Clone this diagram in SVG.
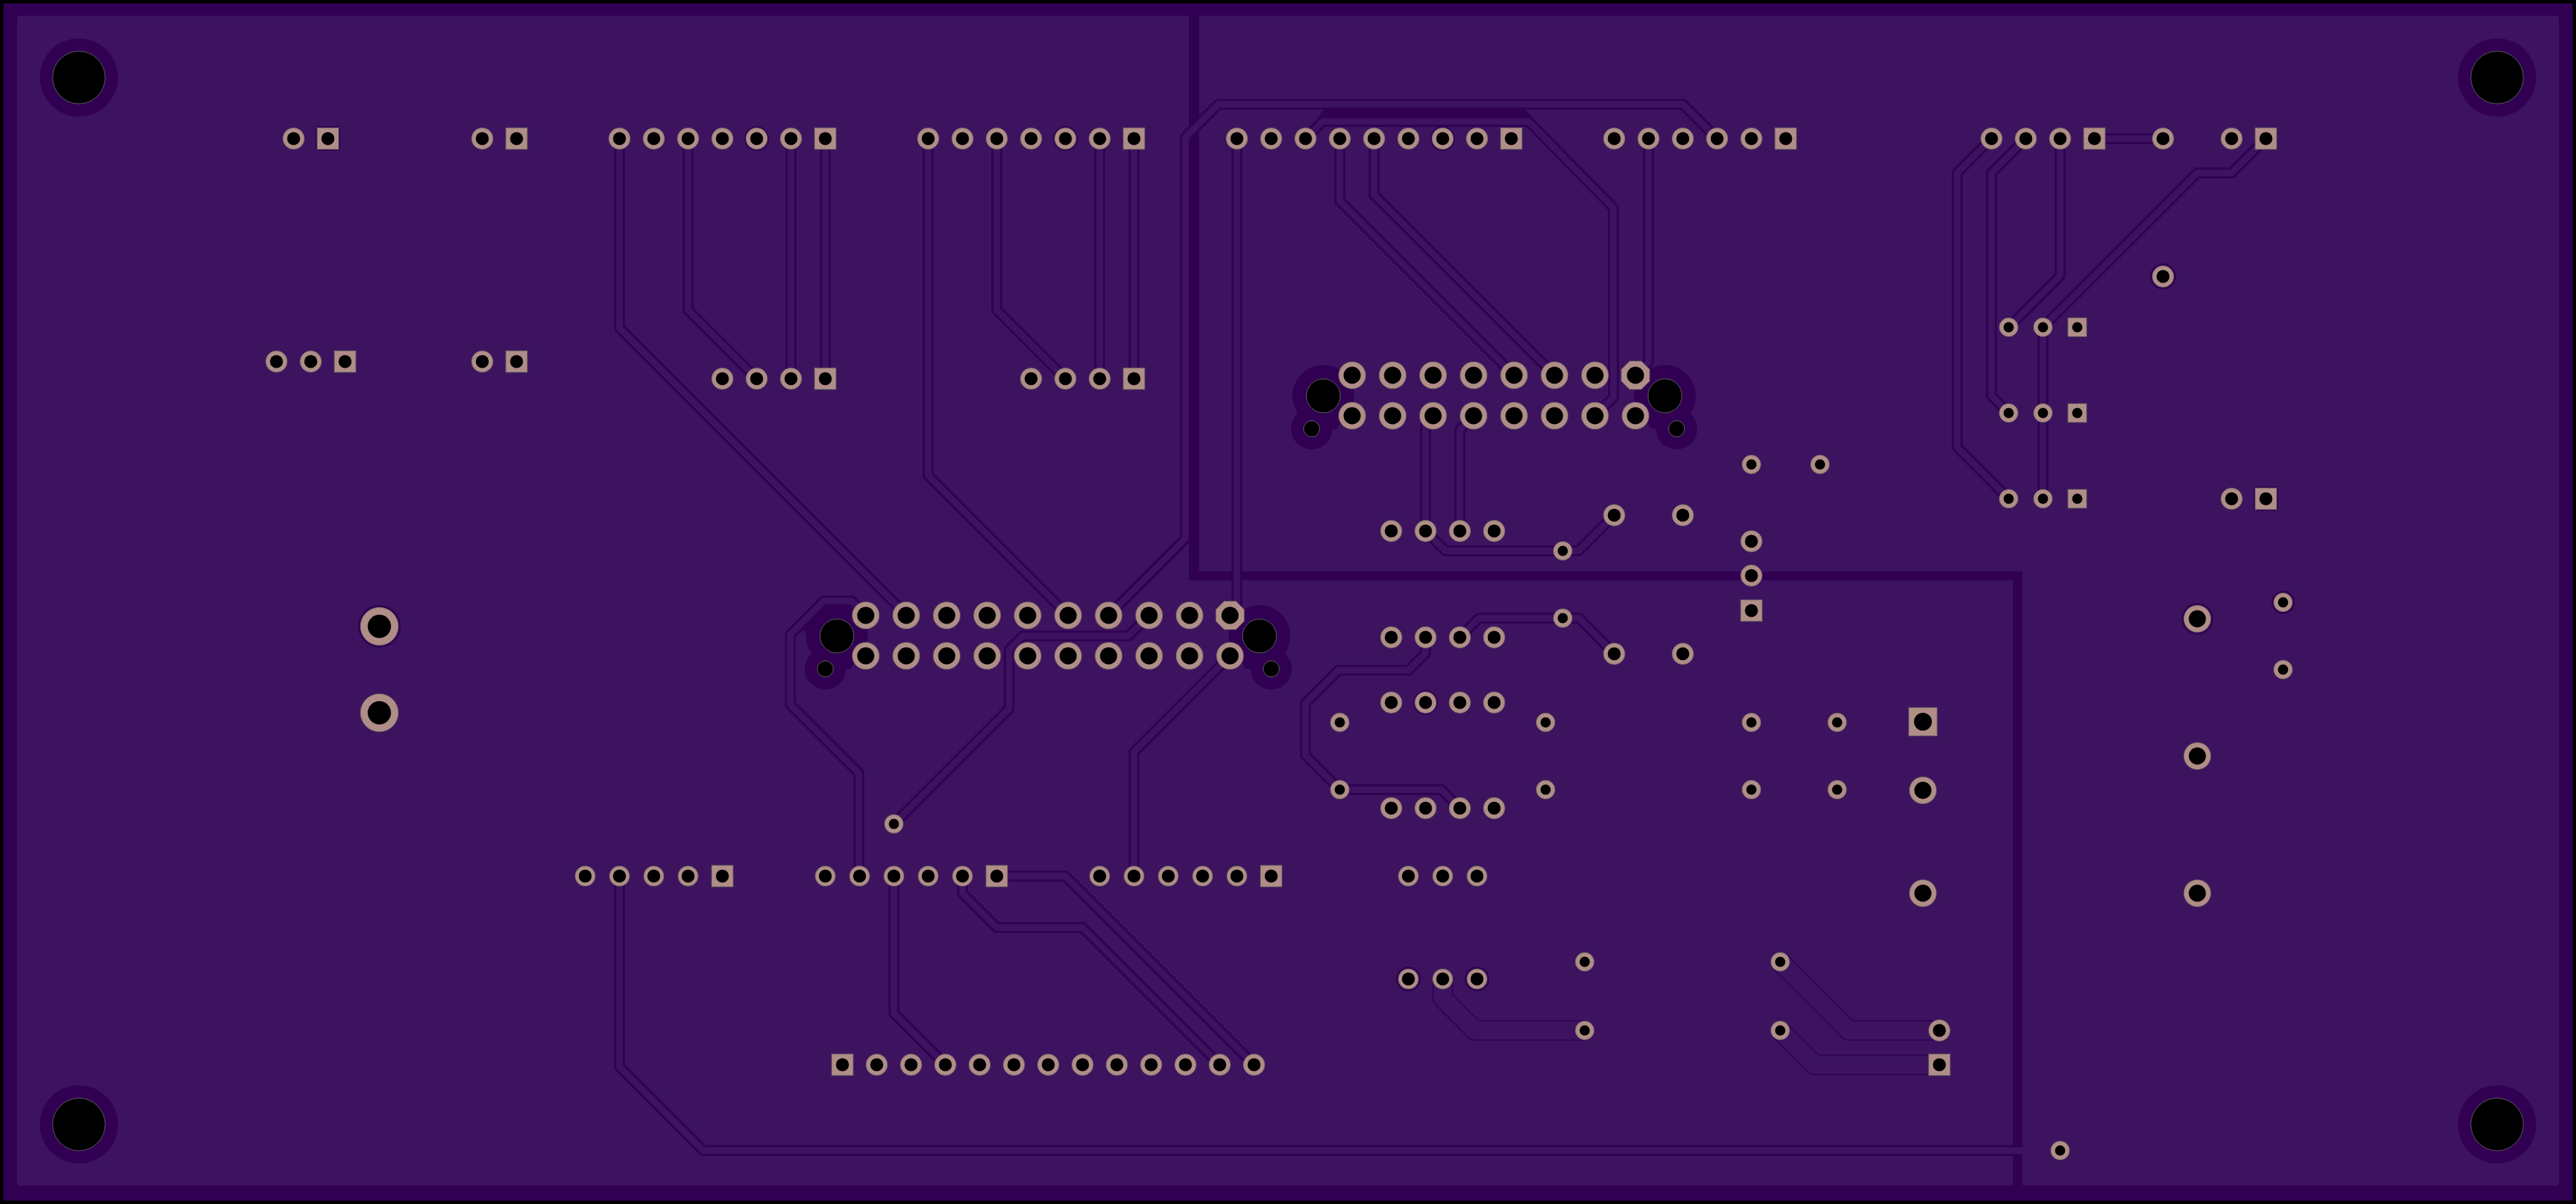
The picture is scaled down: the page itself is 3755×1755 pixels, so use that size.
<svg xmlns="http://www.w3.org/2000/svg" width="3755" height="1755" viewBox="0 0 3755 1755">
<style>
.pad{fill:#b08d87;stroke:#62625f;stroke-width:1}
.hole{fill:#000}
.rim{fill:#000;stroke:#5f6060;stroke-width:1}
.clear{fill:#310053}
.zone{fill:#3d1360;stroke:#3d1360;stroke-width:4;stroke-linejoin:round}
.net{fill:none;stroke-linejoin:round;stroke-linecap:butt}
</style>
<defs>
<g id="p"><circle class="pad" r="15.7"/><circle class="hole" r="9.5"/></g>
<g id="t"><circle class="pad" r="14.7"/><circle class="hole" r="9.5"/></g>
<g id="v"><circle class="pad" r="13.7"/><circle class="hole" r="7.5"/></g>
<g id="b"><circle class="pad" r="19.7"/><circle class="hole" r="12.5"/></g>
<g id="m"><circle class="pad" r="27.7"/><circle class="hole" r="17"/></g>
<g id="s"><rect class="pad" x="-15.7" y="-15.7" width="31.4" height="31.4"/><circle class="hole" r="9.5"/></g>
<g id="z"><rect class="pad" x="-13.7" y="-13.7" width="27.4" height="27.4"/><circle class="hole" r="7.5"/></g>
<g id="q"><rect class="pad" x="-20.7" y="-20.7" width="41.4" height="41.4"/><circle class="hole" r="13"/></g>
<g id="o"><polygon class="pad" points="-8.5,-20.7 8.5,-20.7 20.7,-8.5 20.7,8.5 8.5,20.7 -8.5,20.7 -20.7,8.5 -20.7,-8.5"/><circle class="hole" r="12.5"/></g>
<g id="lug"><path class="clear" d="M-14,-38 L43,-12 L43,10 L20,48 L-17,48 Z"/><circle class="clear" r="45"/><circle class="clear" cx="-17" cy="48" r="30"/><circle class="rim" r="24.7"/><circle class="rim" cx="-17" cy="48" r="11.7"/></g>
<g id="mount"><circle class="clear" r="57"/><circle class="rim" r="38.3"/></g>
<g id="nets">
<path d="M903,202V478L1321,896"/>
<path d="M1003,202V452L1103,552"/>
<path d="M1153,202V552"/>
<path d="M1203,202V552"/>
<path d="M1353,202V693L1557,897"/>
<path d="M1453,202V452L1553,552"/>
<path d="M1603,202V552"/>
<path d="M1653,202V552"/>
<path d="M1616,897L1728,785V200L1776,152H2453L2503,202"/>
<path d="M1903,202L1928,177H2228L2352,303V579L2325,606"/>
<path d="M1953,202V293L2207,547"/>
<path d="M2003,202V284L2266,547"/>
<path d="M2403,202V528L2384,547"/>
<path d="M1803,202V880L1793,897"/>
<path d="M2089,606L2078,620V774"/>
<path d="M2148,606L2128,626V774"/>
<path d="M2078,774L2107,803H2301L2353,751"/>
<path d="M1252,1277V1127L1152,1027V925L1201,876H1241L1262,897"/>
<path d="M1303,1201L1471,1033V947L1491,927H1645L1675,897"/>
<path d="M1793,956L1653,1096V1277"/>
<path d="M1303,1277V1477L1378,1552"/>
<path d="M1403,1277V1302L1453,1352H1578L1778,1552"/>
<path d="M1453,1277H1553L1828,1552"/>
<path d="M2078,929V952L2053,977H1951L1903,1025V1101L1953,1151H2101L2128,1178"/>
<path d="M2128,929L2156,901H2302L2353,953"/>
<path d="M903,1277V1555L1025,1677H2948"/>
<path d="M3053,202H3153"/>
<path d="M2903,202L2853,252V652L2928,727"/>
<path d="M2953,202L2903,252V577L2928,602"/>
<path d="M3003,202V402L2928,477"/>
<path d="M3303,202L3253,252H3203L2978,477"/>
<path d="M2978,477V727"/>
</g>
<g id="wide">
<path d="M2103,1427V1455L2150,1502H2310"/>
<path d="M2595,1402L2695,1502H2827"/>
<path d="M2595,1502L2645,1552H2827"/>
</g>
</defs>

<rect width="3755" height="1755" fill="#000"/>
<rect class="clear" x="5" y="5" width="3745" height="1745"/>
<polygon class="zone" points="27,25 1731,25 1731,848 2932,848 2932,1726 27,1726"/>
<polygon class="zone" points="1750,25 3728,25 3728,1726 2950,1726 2950,831 1750,831"/>
<polygon class="clear" points="1930,160 2224,160 2234,171 1921,171"/>

<g id="mounting-holes">
<use href="#mount" x="115" y="113"/>
<use href="#mount" x="3640" y="113"/>
<use href="#mount" x="115" y="1639"/>
<use href="#mount" x="3640" y="1639"/>
</g>

<g id="connector-lugs">
<path class="clear" d="M1159,926L1201,882H1240V935H1178L1172,918Z"/>
<use href="#lug" transform="translate(1220 927)"/>
<use href="#lug" transform="translate(1836 927) scale(-1 1)"/>
<use href="#lug" transform="translate(1929 577)"/>
<use href="#lug" transform="translate(2427 577) scale(-1 1)"/>
</g>

<g id="connectors">
<use href="#nets" class="net" stroke="#310053" stroke-width="16"/>
<use href="#nets" class="net" stroke="#3d1360" stroke-width="9.5"/>
<use href="#wide" class="net" stroke="#310053" stroke-width="30"/>
<use href="#wide" class="net" stroke="#3d1360" stroke-width="26.5"/>
</g>

<g id="pad-halos">
<circle class="clear" cx="3153" cy="403" r="19"/>
<circle class="clear" cx="2053" cy="1427" r="18"/>
<circle class="clear" cx="2153" cy="1427" r="18"/>
<circle class="clear" cx="553" cy="913" r="31"/>
<circle class="clear" cx="3328" cy="878" r="17"/>
<circle class="clear" cx="3203" cy="902" r="23"/>
<circle class="clear" cx="1103" cy="202" r="18"/>
<circle class="clear" cx="1553" cy="202" r="18"/>
<circle class="clear" cx="2103" cy="202" r="18"/>
<circle class="clear" cx="2078" cy="1024" r="18"/>
<rect class="clear" x="3285" y="709" width="36" height="36" rx="5"/>
<rect class="clear" x="460" y="184" width="36" height="36" rx="5"/>
</g>

<g id="J1"><use href="#p" x="428" y="202"/><use href="#s" x="478" y="202"/></g>
<g id="J2"><use href="#p" x="703" y="202"/><use href="#s" x="753" y="202"/></g>
<g id="J3"><use href="#p" x="903" y="202"/><use href="#p" x="953" y="202"/><use href="#p" x="1003" y="202"/><use href="#p" x="1053" y="202"/><use href="#p" x="1103" y="202"/><use href="#p" x="1153" y="202"/><use href="#s" x="1203" y="202"/></g>
<g id="J4"><use href="#p" x="1353" y="202"/><use href="#p" x="1403" y="202"/><use href="#p" x="1453" y="202"/><use href="#p" x="1503" y="202"/><use href="#p" x="1553" y="202"/><use href="#p" x="1603" y="202"/><use href="#s" x="1653" y="202"/></g>
<g id="J5"><use href="#p" x="1803" y="202"/><use href="#p" x="1853" y="202"/><use href="#p" x="1903" y="202"/><use href="#p" x="1953" y="202"/><use href="#p" x="2003" y="202"/><use href="#p" x="2053" y="202"/><use href="#p" x="2103" y="202"/><use href="#p" x="2153" y="202"/><use href="#s" x="2203" y="202"/></g>
<g id="J6"><use href="#p" x="2353" y="202"/><use href="#p" x="2403" y="202"/><use href="#p" x="2453" y="202"/><use href="#p" x="2503" y="202"/><use href="#p" x="2553" y="202"/><use href="#s" x="2603" y="202"/></g>
<g id="J7"><use href="#p" x="2903" y="202"/><use href="#p" x="2953" y="202"/><use href="#p" x="3003" y="202"/><use href="#s" x="3053" y="202"/></g>
<g id="J8"><use href="#p" x="3153" y="202"/></g>
<g id="J9"><use href="#p" x="3253" y="202"/><use href="#s" x="3303" y="202"/></g>
<g id="J10"><use href="#p" x="3153" y="403"/></g>
<g id="J11"><use href="#p" x="403" y="527"/><use href="#p" x="453" y="527"/><use href="#s" x="503" y="527"/></g>
<g id="J12"><use href="#p" x="703" y="527"/><use href="#s" x="753" y="527"/></g>
<g id="J13"><use href="#p" x="1053" y="552"/><use href="#p" x="1103" y="552"/><use href="#p" x="1153" y="552"/><use href="#s" x="1203" y="552"/></g>
<g id="J14"><use href="#p" x="1503" y="552"/><use href="#p" x="1553" y="552"/><use href="#p" x="1603" y="552"/><use href="#s" x="1653" y="552"/></g>
<g id="Q1"><use href="#v" x="2928" y="477"/><use href="#v" x="2978" y="477"/><use href="#z" x="3028" y="477"/></g>
<g id="Q2"><use href="#v" x="2928" y="602"/><use href="#v" x="2978" y="602"/><use href="#z" x="3028" y="602"/></g>
<g id="Q3"><use href="#v" x="2928" y="727"/><use href="#v" x="2978" y="727"/><use href="#z" x="3028" y="727"/></g>
<g id="J15"><use href="#p" x="3253" y="727"/><use href="#s" x="3303" y="727"/></g>
<g id="TP1"><use href="#m" x="553" y="913"/><use href="#m" x="553" y="1039"/></g>

<g id="IDC1">
<use href="#b" x="1262" y="897"/><use href="#b" x="1321" y="897"/><use href="#b" x="1380" y="897"/><use href="#b" x="1439" y="897"/><use href="#b" x="1498" y="897"/><use href="#b" x="1557" y="897"/><use href="#b" x="1616" y="897"/><use href="#b" x="1675" y="897"/><use href="#b" x="1734" y="897"/><use href="#o" x="1793" y="897"/>
<use href="#b" x="1262" y="956"/><use href="#b" x="1321" y="956"/><use href="#b" x="1380" y="956"/><use href="#b" x="1439" y="956"/><use href="#b" x="1498" y="956"/><use href="#b" x="1557" y="956"/><use href="#b" x="1616" y="956"/><use href="#b" x="1675" y="956"/><use href="#b" x="1734" y="956"/><use href="#b" x="1793" y="956"/>
</g>
<g id="IDC2">
<use href="#b" x="1971" y="547"/><use href="#b" x="2030" y="547"/><use href="#b" x="2089" y="547"/><use href="#b" x="2148" y="547"/><use href="#b" x="2207" y="547"/><use href="#b" x="2266" y="547"/><use href="#b" x="2325" y="547"/><use href="#o" x="2384" y="547"/>
<use href="#b" x="1971" y="606"/><use href="#b" x="2030" y="606"/><use href="#b" x="2089" y="606"/><use href="#b" x="2148" y="606"/><use href="#b" x="2207" y="606"/><use href="#b" x="2266" y="606"/><use href="#b" x="2325" y="606"/><use href="#b" x="2384" y="606"/>
</g>

<g id="U1"><use href="#p" x="2028" y="774"/><use href="#p" x="2078" y="774"/><use href="#p" x="2128" y="774"/><use href="#p" x="2178" y="774"/></g>
<g id="U2"><use href="#p" x="2028" y="929"/><use href="#p" x="2078" y="929"/><use href="#p" x="2128" y="929"/><use href="#p" x="2178" y="929"/></g>
<g id="U3"><use href="#p" x="2028" y="1024"/><use href="#p" x="2078" y="1024"/><use href="#p" x="2128" y="1024"/><use href="#p" x="2178" y="1024"/></g>
<g id="U4"><use href="#p" x="2028" y="1178"/><use href="#p" x="2078" y="1178"/><use href="#p" x="2128" y="1178"/><use href="#p" x="2178" y="1178"/></g>
<g id="R1"><use href="#v" x="2278" y="803"/></g>
<g id="R2"><use href="#p" x="2353" y="751"/><use href="#p" x="2453" y="751"/></g>
<g id="R3"><use href="#v" x="2278" y="901"/></g>
<g id="R4"><use href="#p" x="2353" y="953"/><use href="#p" x="2453" y="953"/></g>
<g id="R5"><use href="#v" x="2553" y="677"/><use href="#v" x="2653" y="677"/></g>
<g id="J16"><use href="#p" x="2553" y="789"/><use href="#p" x="2553" y="839"/><use href="#s" x="2553" y="890"/></g>
<g id="R6"><use href="#v" x="1953" y="1053"/><use href="#v" x="2253" y="1053"/></g>
<g id="R7"><use href="#v" x="1953" y="1151"/><use href="#v" x="2253" y="1151"/></g>
<g id="R8"><use href="#v" x="2553" y="1053"/><use href="#v" x="2678" y="1053"/></g>
<g id="R9"><use href="#v" x="2553" y="1151"/><use href="#v" x="2678" y="1151"/></g>
<g id="K1"><use href="#q" x="2803" y="1052"/><use href="#b" x="2803" y="1152"/><use href="#b" x="2803" y="1302"/></g>
<g id="K2"><use href="#b" x="3203" y="902"/><use href="#b" x="3203" y="1102"/><use href="#b" x="3203" y="1302"/></g>
<g id="R10"><use href="#v" x="3328" y="878"/><use href="#v" x="3328" y="976"/></g>
<g id="J17"><use href="#t" x="853" y="1277"/><use href="#t" x="903" y="1277"/><use href="#t" x="953" y="1277"/><use href="#t" x="1003" y="1277"/><use href="#s" x="1053" y="1277"/></g>
<g id="J18"><use href="#t" x="1203" y="1277"/><use href="#t" x="1253" y="1277"/><use href="#t" x="1303" y="1277"/><use href="#t" x="1353" y="1277"/><use href="#t" x="1403" y="1277"/><use href="#s" x="1453" y="1277"/></g>
<g id="J19"><use href="#t" x="1603" y="1277"/><use href="#t" x="1653" y="1277"/><use href="#t" x="1703" y="1277"/><use href="#t" x="1753" y="1277"/><use href="#t" x="1803" y="1277"/><use href="#s" x="1853" y="1277"/></g>
<g id="V1"><use href="#v" x="1303" y="1201"/></g>
<g id="J20"><use href="#s" x="1228" y="1552"/><use href="#p" x="1278" y="1552"/><use href="#p" x="1328" y="1552"/><use href="#p" x="1378" y="1552"/><use href="#p" x="1428" y="1552"/><use href="#p" x="1478" y="1552"/><use href="#p" x="1528" y="1552"/><use href="#p" x="1578" y="1552"/><use href="#p" x="1628" y="1552"/><use href="#p" x="1678" y="1552"/><use href="#p" x="1728" y="1552"/><use href="#p" x="1778" y="1552"/><use href="#p" x="1828" y="1552"/></g>
<g id="U5"><use href="#t" x="2053" y="1277"/><use href="#t" x="2103" y="1277"/><use href="#t" x="2153" y="1277"/></g>
<g id="U6"><use href="#t" x="2053" y="1427"/><use href="#t" x="2103" y="1427"/><use href="#t" x="2153" y="1427"/></g>
<g id="R11"><use href="#v" x="2310" y="1402"/><use href="#v" x="2310" y="1502"/></g>
<g id="R12"><use href="#v" x="2595" y="1402"/><use href="#v" x="2595" y="1502"/></g>
<g id="J21"><use href="#p" x="2827" y="1502"/><use href="#s" x="2827" y="1552"/></g>
<g id="V2"><use href="#v" x="3003" y="1677"/></g>
</svg>
